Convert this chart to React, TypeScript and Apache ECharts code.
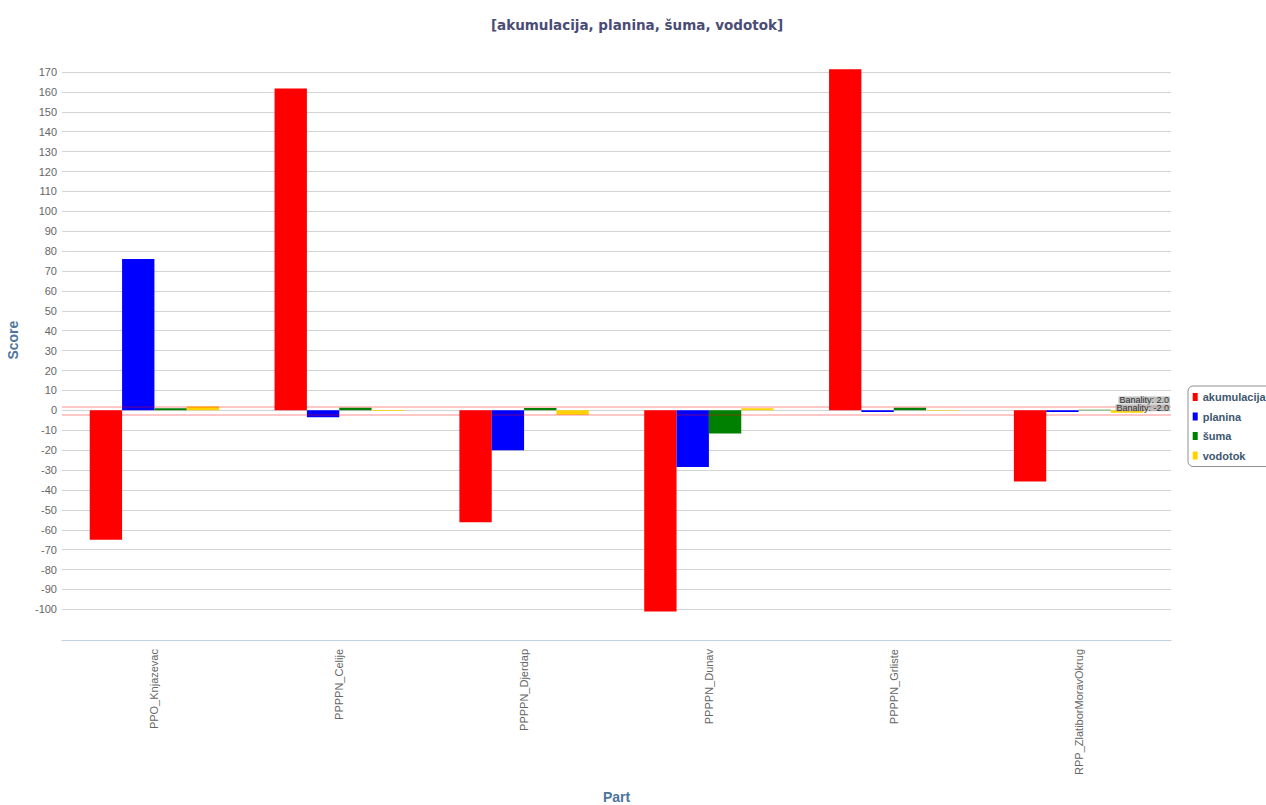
import React, { useEffect, useRef } from "react";
import * as echarts from "echarts";

const categories = [
  "PPO_Knjazevac",
  "PPPPN_Celije",
  "PPPPN_Djerdap",
  "PPPPN_Dunav",
  "PPPPN_Grliste",
  "RPP_ZlatiborMoravOkrug",
];
const seriesNames = ["akumulacija", "planina", "šuma", "vodotok"];
const akumulacija = [-65, 161.7, -56.2, -101, 171.4, -35.7];
const planina = [76, -3.5, -20, -28.5, -0.8, -0.8];
const suma = [1, 1.3, 1.2, -11.6, 1.3, 0.3];
const vodotok = [2, -0.3, -2.2, 1, -0.2, -1.2];
const seriesColors = ["#ff0000", "#0000ff", "#008000", "#ffd200"];
const banalityLines = [2, -2];
const Y_MIN = -110;
const Y_MAX = 170;
const Y_STEP = 10;

export default function App() {
  const ref = useRef<HTMLDivElement>(null);
  useEffect(() => {
    document.body.style.margin = "0";
    if (!ref.current) return;
    const chart = echarts.init(ref.current, undefined, { renderer: "svg" });
    const tickCount = Math.round((Y_MAX - Y_MIN) / Y_STEP) + 1;
    const splitColors: string[] = [];
    for (let i = 0; i < tickCount; i++) splitColors.push(i === 0 ? "transparent" : "#d4d4d4");
    const allData = [akumulacija, planina, suma, vodotok];
    const labelFont = "Liberation Sans, Arial, sans-serif";
    const series: any[] = seriesNames.map((name, i) => ({
      name,
      type: "bar",
      data: allData[i],
      itemStyle: { color: seriesColors[i] },
      barGap: "0%",
      barCategoryGap: "30%",
      clip: false,
    }));
    series[0].markLine = {
      silent: true,
      symbol: "none",
      lineStyle: { color: "rgba(255,0,0,0.22)", width: 2, type: "solid" },
      label: {
        position: "insideEndTop",
        distance: [1, 3],
        fontFamily: labelFont,
        fontSize: 9,
        color: "#333",
        backgroundColor: "rgba(170,170,170,0.75)",
        padding: [0, 1, -1, 1],
        lineHeight: 8,
      },
      data: banalityLines.map((v) => ({
        yAxis: v,
        label: { formatter: "Banality: " + v.toFixed(1) },
      })),
    };
    chart.setOption({
      animation: false,
      title: {
        text: "[akumulacija, planina, šuma, vodotok]",
        left: 632,
        textAlign: "center",
        top: 13,
        textStyle: {
          fontFamily: "DejaVu Sans, sans-serif",
          fontSize: 13.5,
          fontWeight: "bold",
          color: "#4a4c74",
        },
      },
      legend: {
        orient: "vertical",
        left: 1188,
        top: 386,
        padding: [5.5, 12, 5.5, 4.7],
        itemGap: 8.5,
        itemWidth: 5,
        itemHeight: 8,
        icon: "rect",
        borderColor: "#909090",
        borderWidth: 1,
        borderRadius: 5,
        data: seriesNames,
        textStyle: {
          fontFamily: labelFont,
          fontWeight: "bold",
          fontSize: 11,
          color: "#3E576F",
        },
      },
      grid: {
        left: 62,
        right: 95,
        top: 72,
        bottom: 175.7,
        containLabel: false,
        outerBoundsMode: "none",
      },
      xAxis: {
        type: "category",
        data: categories,
        offset: 10.7,
        name: "Part",
        nameLocation: "middle",
        nameGap: 150,
        nameTextStyle: {
          fontFamily: labelFont,
          fontWeight: "bold",
          fontSize: 14,
          color: "#4d759e",
        },
        axisLine: { onZero: false, lineStyle: { color: "#C0D0E0", width: 1 } },
        axisTick: { length: 5, lineStyle: { color: "#C0D0E0" } },
        axisLabel: {
          rotate: 90,
          margin: 9,
          fontFamily: labelFont,
          fontSize: 11,
          color: "#666",
        },
        splitLine: { show: false },
      },
      yAxis: {
        type: "value",
        min: Y_MIN,
        max: Y_MAX,
        interval: Y_STEP,
        name: "Score",
        nameLocation: "middle",
        nameGap: 42,
        nameTextStyle: {
          fontFamily: labelFont,
          fontWeight: "bold",
          fontSize: 14,
          color: "#4d759e",
          padding: [0, 0, 0, 21],
        },
        axisLine: { show: false },
        axisTick: { show: false },
        axisLabel: {
          showMinLabel: false,
          margin: 5,
          fontFamily: labelFont,
          fontSize: 11,
          color: "#666",
        },
        splitLine: { lineStyle: { color: splitColors, width: 1 } },
      },
      series,
    });
    return () => chart.dispose();
  }, []);
  return <div ref={ref} style={{ width: 1266, height: 805 }} />;
}
